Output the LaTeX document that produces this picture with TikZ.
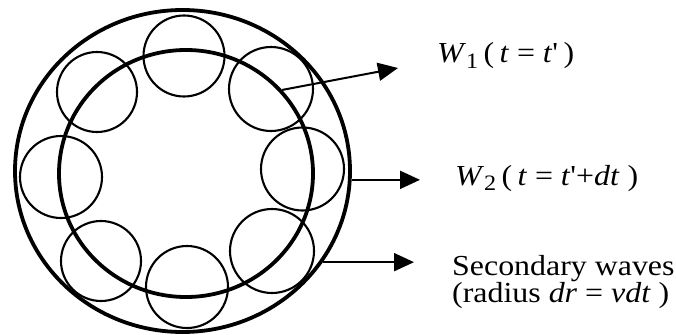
\documentclass[tikz,border=0pt]{standalone}
\usepackage{fontspec}
\setmainfont{Liberation Serif}
\usetikzlibrary{arrows.meta,shapes.geometric}
\newcommand{\wsub}[1]{\raisebox{-0.2em}{\fontsize{22}{22}\selectfont #1}}
\newcommand{\wideit}[1]{\scalebox{1.1}[1]{#1}}
\tikzset{
  front/.style={draw, shape=ellipse, line width=3.8pt, inner sep=0pt},
  wave/.style={draw, circle, line width=2.1pt, inner sep=0pt},
  pointer/.style={line width=2pt, -{Triangle[length=20pt,width=18pt]}},
  lbl/.style={anchor=base west, inner sep=0pt, font=\fontsize{29}{25}\selectfont}
}
\begin{document}
\begin{tikzpicture}[x=1pt,y=-1pt]
\useasboundingbox (0,0) rectangle (676,334);
% wavefronts
\node[front, minimum width=335pt, minimum height=322pt] (outer) at (182.5,171) {};
\node[front, minimum width=254pt, minimum height=247pt] (inner) at (186,173.5) {};
% secondary waves
\node[wave, minimum size=81pt] (s1) at (184,56) {};
\node[wave, minimum size=84pt] (s2) at (271,89) {};
\node[wave, minimum size=83pt] (s3) at (302.5,169) {};
\node[wave, minimum size=84pt] (s4) at (272,251) {};
\node[wave, minimum size=82pt] (s5) at (187,287) {};
\node[wave, minimum size=80pt] (s6) at (101,261) {};
\node[wave, minimum size=82pt] (s7) at (61,177) {};
\node[wave, minimum size=80pt] (s8) at (97,92) {};
% arrow tips
\coordinate (t1) at (398,68);
\coordinate (t2) at (420,181);
\coordinate (t3) at (414,263);
\draw[pointer] (inner.41) -- (t1);
\draw[pointer] (outer.-3.5) -- (outer.-3.5 -| t2);
\draw[pointer] (outer.-33.8) -- (outer.-33.8 -| t3);
% labels
\node[lbl] (l1) at (437,63) {\wideit{\textit{W}\wsub{1}\,(\,\textit{t} = \textit{t}\textquotesingle\,)}};
\node[lbl] (l2) at (455,185) {\wideit{\textit{W}\wsub{2}\,(\,\textit{t} = \textit{t}\textquotesingle+\textit{dt} )}};
\node[lbl] (l3) at (452,275) {\wideit{\begin{tabular}[t]{@{}l@{}}Secondary waves\\(radius \textit{dr} = \textit{vdt} )\end{tabular}}};
\end{tikzpicture}
\end{document}
